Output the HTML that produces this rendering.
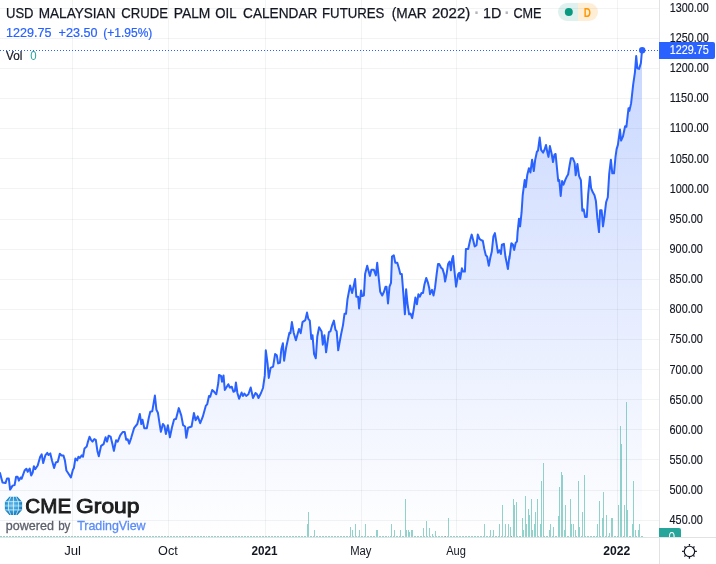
<!DOCTYPE html>
<html><head><meta charset="utf-8"><title>USD Malaysian Crude Palm Oil Calendar Futures</title>
<style>
html,body{margin:0;padding:0;background:#fff;}
body{width:716px;height:564px;position:relative;overflow:hidden;}
svg{position:absolute;left:0;top:0;display:block;font-family:"Liberation Sans",sans-serif;}
</style></head><body>
<svg width="716" height="564" viewBox="0 0 716 564">
<defs>
<linearGradient id="ag" x1="0" y1="0" x2="0" y2="537" gradientUnits="userSpaceOnUse">
<stop offset="0" stop-color="#2962ff" stop-opacity="0.28"/>
<stop offset="1" stop-color="#2962ff" stop-opacity="0"/>
</linearGradient>
<radialGradient id="gl" cx="0.45" cy="0.45" r="0.62">
<stop offset="0" stop-color="#69bdec"/>
<stop offset="0.55" stop-color="#2f9bd8"/>
<stop offset="1" stop-color="#0b6fb4"/>
</radialGradient>
<clipPath id="gc"><circle cx="13.4" cy="505.9" r="8.7"/></clipPath>
<clipPath id="vc"><rect x="659" y="520" width="57" height="17"/></clipPath>
</defs>
<g shape-rendering="crispEdges" fill="#2a2e32" fill-opacity="0.06"><rect x="0" y="8" width="659" height="1"/><rect x="0" y="38" width="659" height="1"/><rect x="0" y="68" width="659" height="1"/><rect x="0" y="98" width="659" height="1"/><rect x="0" y="128" width="659" height="1"/><rect x="0" y="158" width="659" height="1"/><rect x="0" y="188" width="659" height="1"/><rect x="0" y="219" width="659" height="1"/><rect x="0" y="249" width="659" height="1"/><rect x="0" y="279" width="659" height="1"/><rect x="0" y="309" width="659" height="1"/><rect x="0" y="339" width="659" height="1"/><rect x="0" y="369" width="659" height="1"/><rect x="0" y="399" width="659" height="1"/><rect x="0" y="429" width="659" height="1"/><rect x="0" y="459" width="659" height="1"/><rect x="0" y="490" width="659" height="1"/><rect x="0" y="520" width="659" height="1"/><rect x="72" y="0" width="1" height="537"/><rect x="168" y="0" width="1" height="537"/><rect x="265" y="0" width="1" height="537"/><rect x="361" y="0" width="1" height="537"/><rect x="456" y="0" width="1" height="537"/><rect x="617" y="0" width="1" height="537"/></g>
<path d="M0.0,537 L0.0,473.0 L2.5,482.6 L5.5,483.1 L7.0,478.5 L8.8,478.5 L10.1,489.6 L12.6,485.6 L14.6,485.1 L16.1,476.8 L17.6,476.8 L18.9,480.6 L20.6,477.5 L21.6,478.8 L24.6,470.5 L26.4,468.7 L27.7,471.8 L29.7,468.5 L31.2,475.5 L32.7,472.5 L33.9,466.2 L35.2,469.2 L37.7,465.5 L40.2,456.7 L41.7,454.4 L43.2,463.0 L45.3,455.4 L47.3,452.9 L48.5,454.9 L50.3,453.4 L52.0,460.4 L54.1,468.0 L55.8,462.5 L57.8,461.7 L59.8,453.7 L61.6,455.4 L63.4,455.4 L64.9,460.4 L66.4,470.5 L68.4,473.5 L70.9,477.5 L72.9,469.7 L73.9,468.0 L75.4,458.4 L77.2,460.4 L78.4,456.7 L79.9,457.9 L81.7,455.4 L83.0,456.7 L84.5,448.4 L86.7,446.6 L88.0,441.6 L89.5,436.8 L91.0,439.8 L92.5,441.6 L94.3,439.1 L95.8,439.8 L97.5,451.6 L98.8,456.2 L101.1,445.9 L103.6,444.1 L105.6,437.3 L107.1,441.6 L108.6,435.8 L110.6,436.6 L112.4,444.1 L113.9,450.9 L116.1,440.3 L117.7,441.6 L120.2,435.3 L122.7,432.0 L124.7,432.0 L126.2,439.8 L127.7,439.3 L129.2,443.6 L131.2,437.8 L134.2,427.8 L137.3,424.0 L139.8,413.9 L141.3,424.0 L142.5,419.7 L144.3,428.3 L146.8,428.3 L148.8,417.7 L150.3,411.7 L152.3,411.2 L154.9,395.6 L156.4,409.7 L157.9,412.7 L159.4,422.7 L160.9,431.8 L162.9,424.0 L164.4,425.8 L165.9,434.1 L167.9,425.3 L169.9,437.3 L172.0,427.3 L174.0,419.7 L175.5,418.9 L176.0,419.0 L178.8,408.1 L181.3,415.6 L183.1,425.2 L185.1,426.5 L186.3,437.8 L188.1,427.7 L191.6,426.5 L193.9,413.1 L195.6,420.2 L197.7,416.4 L200.2,423.2 L202.7,416.9 L205.9,405.6 L207.2,404.3 L209.0,396.0 L210.2,396.8 L212.2,390.0 L214.2,391.8 L216.3,394.3 L218.3,383.0 L219.0,374.9 L221.0,375.9 L222.0,381.7 L223.5,375.4 L224.8,390.0 L228.3,384.2 L229.8,387.5 L231.8,386.7 L233.4,391.8 L234.9,391.0 L235.9,382.5 L237.4,393.0 L239.1,398.8 L241.6,392.5 L242.9,396.0 L244.4,393.5 L246.2,396.0 L248.4,394.3 L250.7,387.5 L253.0,398.0 L255.5,393.0 L257.0,394.3 L258.5,398.0 L261.0,393.0 L263.0,388.0 L264.8,375.4 L265.8,350.3 L267.5,362.8 L268.8,377.9 L270.6,367.9 L273.1,366.6 L275.1,354.1 L276.8,355.3 L278.1,363.4 L279.9,362.8 L281.4,349.0 L282.9,343.2 L284.1,360.8 L286.1,347.8 L289.4,332.7 L290.4,333.2 L291.9,322.1 L293.7,332.7 L295.9,340.2 L299.0,328.9 L300.7,333.2 L302.5,322.1 L305.3,320.1 L307.0,312.6 L308.3,318.9 L309.8,320.6 L311.3,339.0 L312.5,335.2 L314.1,354.1 L315.8,358.3 L317.3,336.5 L319.1,327.2 L321.6,331.4 L322.8,344.7 L324.4,335.2 L326.1,352.3 L328.9,332.2 L330.4,331.4 L332.2,325.1 L333.9,320.6 L335.4,329.7 L336.7,331.4 L338.2,350.3 L340.9,335.2 L343.0,325.1 L344.5,313.8 L346.0,313.8 L347.5,299.2 L350.1,285.4 L352.1,293.0 L353.8,285.4 L355.1,279.1 L356.3,296.7 L358.1,296.7 L359.1,308.5 L361.1,290.4 L362.1,296.0 L363.9,295.5 L365.1,274.1 L367.2,265.8 L368.7,271.6 L369.9,275.9 L371.4,269.8 L373.9,269.8 L375.9,275.4 L377.2,262.8 L378.5,275.9 L380.2,291.7 L382.2,295.5 L384.0,291.7 L385.5,286.7 L386.5,286.7 L388.0,303.5 L389.5,286.7 L391.0,282.9 L392.0,256.5 L393.8,255.3 L395.3,262.8 L397.3,262.8 L399.1,269.1 L400.3,274.1 L401.8,274.1 L403.1,290.4 L404.9,314.3 L406.1,289.2 L407.4,303.0 L409.1,314.3 L410.6,313.6 L412.2,318.1 L413.7,309.3 L415.4,297.5 L416.9,304.3 L418.4,294.2 L419.9,296.7 L421.5,293.0 L423.0,293.0 L424.5,284.2 L426.2,277.9 L428.0,282.9 L429.2,287.9 L430.0,294.2 L432.0,289.9 L433.5,295.5 L435.0,287.9 L436.8,272.8 L438.0,264.1 L439.3,264.1 L441.1,267.8 L442.6,269.1 L444.1,274.1 L445.1,281.6 L446.6,274.1 L448.1,264.1 L449.6,261.5 L450.9,270.3 L452.1,259.0 L453.1,256.0 L454.4,270.3 L456.1,286.7 L458.2,274.1 L459.2,272.8 L460.2,279.1 L461.9,268.3 L463.2,271.6 L464.9,271.6 L465.9,249.0 L468.2,249.0 L470.2,239.7 L471.7,234.6 L473.2,240.2 L474.7,246.5 L476.5,245.2 L477.8,234.6 L479.5,238.9 L481.3,240.2 L482.8,240.7 L484.3,249.0 L485.8,255.3 L487.1,256.5 L488.8,265.8 L490.3,257.8 L491.8,251.5 L493.4,236.4 L494.9,233.1 L496.4,242.7 L497.9,252.7 L499.4,250.2 L500.9,254.0 L501.9,244.7 L503.9,243.9 L505.4,256.5 L506.7,262.8 L507.9,269.1 L509.4,256.2 L509.4,259.0 L511.3,243.4 L511.5,243.2 L513.0,244.7 L513.0,245.4 L514.2,249.9 L514.2,249.7 L515.7,242.7 L516.5,242.0 L517.0,241.4 L517.6,232.1 L519.0,218.7 L520.1,226.4 L521.6,212.2 L522.7,195.2 L524.7,180.1 L525.8,187.2 L527.2,175.3 L528.9,168.2 L530.4,172.5 L532.1,159.7 L533.8,171.1 L535.2,159.7 L536.9,151.8 L538.0,150.6 L539.7,137.6 L541.1,149.8 L543.1,152.6 L544.5,149.8 L546.0,145.0 L547.4,152.6 L548.5,156.9 L549.9,146.1 L551.6,153.5 L553.0,162.0 L554.5,154.6 L555.6,154.0 L556.7,165.4 L558.2,181.0 L559.3,180.1 L560.7,196.0 L562.1,181.0 L563.5,184.7 L565.2,180.1 L567.0,176.2 L568.1,174.5 L569.5,166.0 L570.9,158.3 L572.9,158.3 L574.6,162.6 L575.7,175.3 L577.4,164.0 L579.1,176.2 L580.9,180.1 L582.3,210.8 L583.7,209.4 L585.1,217.0 L586.8,217.0 L588.2,193.8 L589.9,176.7 L591.1,188.1 L592.8,192.3 L594.5,195.2 L595.9,200.9 L597.3,217.9 L599.0,232.1 L600.1,210.2 L601.6,210.2 L603.0,226.4 L604.4,216.5 L606.1,202.3 L607.8,197.2 L609.2,173.9 L610.9,159.7 L612.3,173.3 L614.0,173.3 L615.5,156.9 L616.6,149.1 L617.9,144.9 L620.0,129.6 L621.1,140.6 L623.0,136.4 L625.1,126.2 L626.4,126.8 L628.5,108.3 L629.4,110.9 L631.1,103.4 L633.2,84.3 L634.9,72.6 L636.2,56.0 L637.4,68.3 L639.1,68.9 L640.9,63.0 L642.0,50.3 L642.0,537 Z" fill="url(#ag)"/>
<g fill="#26a69a" fill-opacity="0.5" shape-rendering="crispEdges"><rect x="0" y="536" width="1" height="1"/><rect x="1" y="536" width="1" height="1"/><rect x="3" y="536" width="1" height="1"/><rect x="4" y="536" width="1" height="1"/><rect x="6" y="536" width="1" height="1"/><rect x="7" y="536" width="1" height="1"/><rect x="9" y="536" width="1" height="1"/><rect x="10" y="536" width="1" height="1"/><rect x="12" y="536" width="1" height="1"/><rect x="13" y="536" width="1" height="1"/><rect x="15" y="536" width="1" height="1"/><rect x="16" y="536" width="1" height="1"/><rect x="18" y="536" width="1" height="1"/><rect x="19" y="536" width="1" height="1"/><rect x="21" y="536" width="1" height="1"/><rect x="23" y="536" width="1" height="1"/><rect x="24" y="536" width="1" height="1"/><rect x="26" y="536" width="1" height="1"/><rect x="27" y="536" width="1" height="1"/><rect x="29" y="536" width="1" height="1"/><rect x="30" y="536" width="1" height="1"/><rect x="32" y="536" width="1" height="1"/><rect x="33" y="536" width="1" height="1"/><rect x="35" y="536" width="1" height="1"/><rect x="36" y="536" width="1" height="1"/><rect x="38" y="536" width="1" height="1"/><rect x="39" y="536" width="1" height="1"/><rect x="41" y="536" width="1" height="1"/><rect x="42" y="536" width="1" height="1"/><rect x="44" y="536" width="1" height="1"/><rect x="45" y="536" width="1" height="1"/><rect x="47" y="536" width="1" height="1"/><rect x="48" y="536" width="1" height="1"/><rect x="50" y="536" width="1" height="1"/><rect x="51" y="536" width="1" height="1"/><rect x="53" y="536" width="1" height="1"/><rect x="54" y="536" width="1" height="1"/><rect x="56" y="536" width="1" height="1"/><rect x="57" y="536" width="1" height="1"/><rect x="59" y="536" width="1" height="1"/><rect x="60" y="536" width="1" height="1"/><rect x="62" y="536" width="1" height="1"/><rect x="63" y="536" width="1" height="1"/><rect x="65" y="536" width="1" height="1"/><rect x="66" y="536" width="1" height="1"/><rect x="68" y="536" width="1" height="1"/><rect x="69" y="536" width="1" height="1"/><rect x="71" y="536" width="1" height="1"/><rect x="72" y="536" width="1" height="1"/><rect x="74" y="536" width="1" height="1"/><rect x="75" y="536" width="1" height="1"/><rect x="77" y="536" width="1" height="1"/><rect x="78" y="536" width="1" height="1"/><rect x="80" y="536" width="1" height="1"/><rect x="81" y="536" width="1" height="1"/><rect x="83" y="536" width="1" height="1"/><rect x="84" y="536" width="1" height="1"/><rect x="86" y="536" width="1" height="1"/><rect x="87" y="536" width="1" height="1"/><rect x="89" y="536" width="1" height="1"/><rect x="90" y="536" width="1" height="1"/><rect x="92" y="536" width="1" height="1"/><rect x="93" y="536" width="1" height="1"/><rect x="95" y="536" width="1" height="1"/><rect x="96" y="536" width="1" height="1"/><rect x="98" y="536" width="1" height="1"/><rect x="99" y="536" width="1" height="1"/><rect x="101" y="536" width="1" height="1"/><rect x="102" y="536" width="1" height="1"/><rect x="104" y="536" width="1" height="1"/><rect x="105" y="536" width="1" height="1"/><rect x="107" y="536" width="1" height="1"/><rect x="108" y="536" width="1" height="1"/><rect x="110" y="536" width="1" height="1"/><rect x="111" y="536" width="1" height="1"/><rect x="113" y="536" width="1" height="1"/><rect x="114" y="536" width="1" height="1"/><rect x="116" y="536" width="1" height="1"/><rect x="117" y="536" width="1" height="1"/><rect x="119" y="536" width="1" height="1"/><rect x="120" y="536" width="1" height="1"/><rect x="122" y="536" width="1" height="1"/><rect x="123" y="536" width="1" height="1"/><rect x="125" y="536" width="1" height="1"/><rect x="126" y="536" width="1" height="1"/><rect x="128" y="536" width="1" height="1"/><rect x="129" y="536" width="1" height="1"/><rect x="131" y="536" width="1" height="1"/><rect x="132" y="536" width="1" height="1"/><rect x="134" y="536" width="1" height="1"/><rect x="135" y="536" width="1" height="1"/><rect x="137" y="536" width="1" height="1"/><rect x="138" y="536" width="1" height="1"/><rect x="140" y="536" width="1" height="1"/><rect x="141" y="536" width="1" height="1"/><rect x="143" y="536" width="1" height="1"/><rect x="144" y="536" width="1" height="1"/><rect x="146" y="536" width="1" height="1"/><rect x="147" y="536" width="1" height="1"/><rect x="149" y="536" width="1" height="1"/><rect x="150" y="536" width="1" height="1"/><rect x="152" y="536" width="1" height="1"/><rect x="153" y="536" width="1" height="1"/><rect x="155" y="536" width="1" height="1"/><rect x="156" y="536" width="1" height="1"/><rect x="158" y="536" width="1" height="1"/><rect x="159" y="536" width="1" height="1"/><rect x="161" y="536" width="1" height="1"/><rect x="162" y="536" width="1" height="1"/><rect x="164" y="536" width="1" height="1"/><rect x="165" y="536" width="1" height="1"/><rect x="167" y="536" width="1" height="1"/><rect x="168" y="536" width="1" height="1"/><rect x="170" y="536" width="1" height="1"/><rect x="171" y="536" width="1" height="1"/><rect x="173" y="536" width="1" height="1"/><rect x="174" y="536" width="1" height="1"/><rect x="176" y="536" width="1" height="1"/><rect x="177" y="536" width="1" height="1"/><rect x="179" y="536" width="1" height="1"/><rect x="180" y="536" width="1" height="1"/><rect x="182" y="536" width="1" height="1"/><rect x="183" y="536" width="1" height="1"/><rect x="185" y="536" width="1" height="1"/><rect x="186" y="536" width="1" height="1"/><rect x="188" y="536" width="1" height="1"/><rect x="189" y="536" width="1" height="1"/><rect x="191" y="536" width="1" height="1"/><rect x="192" y="536" width="1" height="1"/><rect x="194" y="536" width="1" height="1"/><rect x="195" y="536" width="1" height="1"/><rect x="197" y="536" width="1" height="1"/><rect x="198" y="536" width="1" height="1"/><rect x="200" y="536" width="1" height="1"/><rect x="201" y="536" width="1" height="1"/><rect x="203" y="536" width="1" height="1"/><rect x="204" y="536" width="1" height="1"/><rect x="206" y="536" width="1" height="1"/><rect x="208" y="536" width="1" height="1"/><rect x="209" y="536" width="1" height="1"/><rect x="211" y="536" width="1" height="1"/><rect x="212" y="536" width="1" height="1"/><rect x="214" y="536" width="1" height="1"/><rect x="215" y="536" width="1" height="1"/><rect x="217" y="536" width="1" height="1"/><rect x="218" y="536" width="1" height="1"/><rect x="220" y="536" width="1" height="1"/><rect x="221" y="536" width="1" height="1"/><rect x="223" y="536" width="1" height="1"/><rect x="224" y="536" width="1" height="1"/><rect x="226" y="536" width="1" height="1"/><rect x="227" y="536" width="1" height="1"/><rect x="229" y="536" width="1" height="1"/><rect x="230" y="536" width="1" height="1"/><rect x="232" y="536" width="1" height="1"/><rect x="233" y="536" width="1" height="1"/><rect x="235" y="536" width="1" height="1"/><rect x="236" y="536" width="1" height="1"/><rect x="238" y="536" width="1" height="1"/><rect x="239" y="536" width="1" height="1"/><rect x="241" y="536" width="1" height="1"/><rect x="242" y="536" width="1" height="1"/><rect x="244" y="536" width="1" height="1"/><rect x="245" y="536" width="1" height="1"/><rect x="247" y="536" width="1" height="1"/><rect x="248" y="536" width="1" height="1"/><rect x="250" y="536" width="1" height="1"/><rect x="251" y="536" width="1" height="1"/><rect x="253" y="536" width="1" height="1"/><rect x="254" y="536" width="1" height="1"/><rect x="256" y="536" width="1" height="1"/><rect x="257" y="536" width="1" height="1"/><rect x="259" y="536" width="1" height="1"/><rect x="260" y="536" width="1" height="1"/><rect x="262" y="536" width="1" height="1"/><rect x="263" y="536" width="1" height="1"/><rect x="265" y="536" width="1" height="1"/><rect x="266" y="536" width="1" height="1"/><rect x="268" y="536" width="1" height="1"/><rect x="269" y="536" width="1" height="1"/><rect x="271" y="536" width="1" height="1"/><rect x="272" y="536" width="1" height="1"/><rect x="274" y="536" width="1" height="1"/><rect x="275" y="536" width="1" height="1"/><rect x="277" y="536" width="1" height="1"/><rect x="278" y="536" width="1" height="1"/><rect x="280" y="536" width="1" height="1"/><rect x="281" y="536" width="1" height="1"/><rect x="283" y="536" width="1" height="1"/><rect x="284" y="536" width="1" height="1"/><rect x="286" y="536" width="1" height="1"/><rect x="287" y="536" width="1" height="1"/><rect x="289" y="536" width="1" height="1"/><rect x="290" y="536" width="1" height="1"/><rect x="292" y="536" width="1" height="1"/><rect x="293" y="536" width="1" height="1"/><rect x="295" y="536" width="1" height="1"/><rect x="296" y="536" width="1" height="1"/><rect x="298" y="536" width="1" height="1"/><rect x="299" y="536" width="1" height="1"/><rect x="301" y="536" width="1" height="1"/><rect x="302" y="536" width="1" height="1"/><rect x="304" y="536" width="1" height="1"/><rect x="305" y="536" width="1" height="1"/><rect x="307" y="524" width="1" height="13"/><rect x="308" y="512" width="1" height="25"/><rect x="310" y="536" width="1" height="1"/><rect x="311" y="536" width="1" height="1"/><rect x="313" y="536" width="1" height="1"/><rect x="314" y="530" width="1" height="7"/><rect x="316" y="536" width="1" height="1"/><rect x="317" y="536" width="1" height="1"/><rect x="319" y="536" width="1" height="1"/><rect x="320" y="536" width="1" height="1"/><rect x="322" y="536" width="1" height="1"/><rect x="323" y="536" width="1" height="1"/><rect x="325" y="536" width="1" height="1"/><rect x="326" y="536" width="1" height="1"/><rect x="328" y="536" width="1" height="1"/><rect x="329" y="536" width="1" height="1"/><rect x="331" y="536" width="1" height="1"/><rect x="332" y="536" width="1" height="1"/><rect x="334" y="536" width="1" height="1"/><rect x="335" y="536" width="1" height="1"/><rect x="337" y="536" width="1" height="1"/><rect x="338" y="536" width="1" height="1"/><rect x="340" y="536" width="1" height="1"/><rect x="341" y="536" width="1" height="1"/><rect x="343" y="536" width="1" height="1"/><rect x="344" y="536" width="1" height="1"/><rect x="346" y="536" width="1" height="1"/><rect x="347" y="536" width="1" height="1"/><rect x="349" y="536" width="1" height="1"/><rect x="350" y="527" width="1" height="10"/><rect x="352" y="530" width="1" height="7"/><rect x="353" y="536" width="1" height="1"/><rect x="355" y="524" width="1" height="13"/><rect x="356" y="536" width="1" height="1"/><rect x="358" y="536" width="1" height="1"/><rect x="359" y="530" width="1" height="7"/><rect x="361" y="536" width="1" height="1"/><rect x="362" y="536" width="1" height="1"/><rect x="364" y="536" width="1" height="1"/><rect x="365" y="524" width="1" height="13"/><rect x="367" y="536" width="1" height="1"/><rect x="368" y="536" width="1" height="1"/><rect x="370" y="536" width="1" height="1"/><rect x="371" y="536" width="1" height="1"/><rect x="373" y="536" width="1" height="1"/><rect x="374" y="536" width="1" height="1"/><rect x="376" y="530" width="1" height="7"/><rect x="377" y="530" width="1" height="7"/><rect x="379" y="536" width="1" height="1"/><rect x="380" y="536" width="1" height="1"/><rect x="382" y="536" width="1" height="1"/><rect x="383" y="536" width="1" height="1"/><rect x="385" y="536" width="1" height="1"/><rect x="386" y="536" width="1" height="1"/><rect x="388" y="536" width="1" height="1"/><rect x="390" y="536" width="1" height="1"/><rect x="391" y="524" width="1" height="13"/><rect x="393" y="536" width="1" height="1"/><rect x="394" y="530" width="1" height="7"/><rect x="396" y="536" width="1" height="1"/><rect x="397" y="536" width="1" height="1"/><rect x="399" y="536" width="1" height="1"/><rect x="400" y="530" width="1" height="7"/><rect x="402" y="536" width="1" height="1"/><rect x="403" y="536" width="1" height="1"/><rect x="405" y="499" width="1" height="38"/><rect x="406" y="530" width="1" height="7"/><rect x="408" y="530" width="1" height="7"/><rect x="409" y="532" width="1" height="5"/><rect x="411" y="530" width="1" height="7"/><rect x="412" y="530" width="1" height="7"/><rect x="414" y="536" width="1" height="1"/><rect x="415" y="536" width="1" height="1"/><rect x="417" y="536" width="1" height="1"/><rect x="418" y="536" width="1" height="1"/><rect x="420" y="536" width="1" height="1"/><rect x="421" y="536" width="1" height="1"/><rect x="423" y="528" width="1" height="9"/><rect x="424" y="536" width="1" height="1"/><rect x="426" y="521" width="1" height="16"/><rect x="427" y="536" width="1" height="1"/><rect x="429" y="528" width="1" height="9"/><rect x="430" y="536" width="1" height="1"/><rect x="432" y="534" width="1" height="3"/><rect x="433" y="536" width="1" height="1"/><rect x="435" y="531" width="1" height="6"/><rect x="436" y="536" width="1" height="1"/><rect x="438" y="536" width="1" height="1"/><rect x="439" y="536" width="1" height="1"/><rect x="441" y="536" width="1" height="1"/><rect x="442" y="536" width="1" height="1"/><rect x="444" y="536" width="1" height="1"/><rect x="445" y="536" width="1" height="1"/><rect x="447" y="536" width="1" height="1"/><rect x="448" y="518" width="1" height="19"/><rect x="450" y="536" width="1" height="1"/><rect x="451" y="536" width="1" height="1"/><rect x="453" y="536" width="1" height="1"/><rect x="454" y="536" width="1" height="1"/><rect x="456" y="536" width="1" height="1"/><rect x="457" y="536" width="1" height="1"/><rect x="459" y="536" width="1" height="1"/><rect x="460" y="536" width="1" height="1"/><rect x="462" y="536" width="1" height="1"/><rect x="463" y="536" width="1" height="1"/><rect x="465" y="536" width="1" height="1"/><rect x="466" y="536" width="1" height="1"/><rect x="468" y="536" width="1" height="1"/><rect x="469" y="536" width="1" height="1"/><rect x="471" y="536" width="1" height="1"/><rect x="472" y="536" width="1" height="1"/><rect x="474" y="536" width="1" height="1"/><rect x="475" y="536" width="1" height="1"/><rect x="477" y="536" width="1" height="1"/><rect x="478" y="536" width="1" height="1"/><rect x="480" y="536" width="1" height="1"/><rect x="481" y="536" width="1" height="1"/><rect x="483" y="536" width="1" height="1"/><rect x="484" y="524" width="1" height="13"/><rect x="486" y="536" width="1" height="1"/><rect x="487" y="536" width="1" height="1"/><rect x="489" y="536" width="1" height="1"/><rect x="490" y="530" width="1" height="7"/><rect x="492" y="536" width="1" height="1"/><rect x="493" y="530" width="1" height="7"/><rect x="495" y="536" width="1" height="1"/><rect x="496" y="536" width="1" height="1"/><rect x="498" y="536" width="1" height="1"/><rect x="499" y="524" width="1" height="13"/><rect x="501" y="536" width="1" height="1"/><rect x="502" y="505" width="1" height="32"/><rect x="504" y="536" width="1" height="1"/><rect x="505" y="524" width="1" height="13"/><rect x="507" y="536" width="1" height="1"/><rect x="508" y="524" width="1" height="13"/><rect x="510" y="527" width="1" height="10"/><rect x="511" y="536" width="1" height="1"/><rect x="513" y="499" width="1" height="38"/><rect x="514" y="505" width="1" height="32"/><rect x="516" y="502" width="1" height="35"/><rect x="517" y="536" width="1" height="1"/><rect x="519" y="536" width="1" height="1"/><rect x="520" y="536" width="1" height="1"/><rect x="522" y="518" width="1" height="19"/><rect x="523" y="530" width="1" height="7"/><rect x="525" y="496" width="1" height="41"/><rect x="526" y="524" width="1" height="13"/><rect x="528" y="509" width="1" height="28"/><rect x="529" y="515" width="1" height="22"/><rect x="531" y="499" width="1" height="38"/><rect x="532" y="530" width="1" height="7"/><rect x="534" y="524" width="1" height="13"/><rect x="535" y="512" width="1" height="25"/><rect x="537" y="499" width="1" height="38"/><rect x="538" y="536" width="1" height="1"/><rect x="540" y="524" width="1" height="13"/><rect x="541" y="481" width="1" height="56"/><rect x="543" y="463" width="1" height="74"/><rect x="544" y="536" width="1" height="1"/><rect x="546" y="536" width="1" height="1"/><rect x="547" y="536" width="1" height="1"/><rect x="549" y="530" width="1" height="7"/><rect x="550" y="524" width="1" height="13"/><rect x="552" y="536" width="1" height="1"/><rect x="553" y="527" width="1" height="10"/><rect x="555" y="536" width="1" height="1"/><rect x="556" y="536" width="1" height="1"/><rect x="558" y="516" width="1" height="21"/><rect x="559" y="487" width="1" height="50"/><rect x="561" y="472" width="1" height="65"/><rect x="562" y="475" width="1" height="62"/><rect x="564" y="530" width="1" height="7"/><rect x="565" y="505" width="1" height="32"/><rect x="567" y="536" width="1" height="1"/><rect x="568" y="536" width="1" height="1"/><rect x="570" y="499" width="1" height="38"/><rect x="571" y="524" width="1" height="13"/><rect x="573" y="524" width="1" height="13"/><rect x="575" y="530" width="1" height="7"/><rect x="576" y="536" width="1" height="1"/><rect x="578" y="481" width="1" height="56"/><rect x="579" y="527" width="1" height="10"/><rect x="581" y="536" width="1" height="1"/><rect x="582" y="512" width="1" height="25"/><rect x="584" y="475" width="1" height="62"/><rect x="585" y="536" width="1" height="1"/><rect x="587" y="536" width="1" height="1"/><rect x="588" y="536" width="1" height="1"/><rect x="590" y="536" width="1" height="1"/><rect x="591" y="536" width="1" height="1"/><rect x="593" y="536" width="1" height="1"/><rect x="594" y="536" width="1" height="1"/><rect x="596" y="536" width="1" height="1"/><rect x="597" y="524" width="1" height="13"/><rect x="599" y="501" width="1" height="36"/><rect x="600" y="536" width="1" height="1"/><rect x="602" y="518" width="1" height="19"/><rect x="603" y="492" width="1" height="45"/><rect x="605" y="536" width="1" height="1"/><rect x="606" y="515" width="1" height="22"/><rect x="608" y="536" width="1" height="1"/><rect x="609" y="533" width="1" height="4"/><rect x="611" y="518" width="1" height="19"/><rect x="612" y="518" width="1" height="19"/><rect x="614" y="536" width="1" height="1"/><rect x="615" y="536" width="1" height="1"/><rect x="617" y="536" width="1" height="1"/><rect x="618" y="505" width="1" height="32"/><rect x="620" y="426" width="1" height="111"/><rect x="621" y="444" width="1" height="93"/><rect x="623" y="536" width="1" height="1"/><rect x="624" y="505" width="1" height="32"/><rect x="626" y="402" width="1" height="135"/><rect x="627" y="510" width="1" height="27"/><rect x="629" y="536" width="1" height="1"/><rect x="630" y="536" width="1" height="1"/><rect x="632" y="524" width="1" height="13"/><rect x="633" y="481" width="1" height="56"/><rect x="635" y="530" width="1" height="7"/><rect x="636" y="536" width="1" height="1"/><rect x="638" y="530" width="1" height="7"/><rect x="639" y="524" width="1" height="13"/><rect x="641" y="536" width="1" height="1"/><rect x="642" y="536" width="1" height="1"/></g>
<g fill="#ef5350" fill-opacity="0.5" shape-rendering="crispEdges"><rect x="445" y="536" width="1" height="1"/><rect x="511" y="536" width="1" height="1"/></g>
<polyline points="0.0,473.0 2.5,482.6 5.5,483.1 7.0,478.5 8.8,478.5 10.1,489.6 12.6,485.6 14.6,485.1 16.1,476.8 17.6,476.8 18.9,480.6 20.6,477.5 21.6,478.8 24.6,470.5 26.4,468.7 27.7,471.8 29.7,468.5 31.2,475.5 32.7,472.5 33.9,466.2 35.2,469.2 37.7,465.5 40.2,456.7 41.7,454.4 43.2,463.0 45.3,455.4 47.3,452.9 48.5,454.9 50.3,453.4 52.0,460.4 54.1,468.0 55.8,462.5 57.8,461.7 59.8,453.7 61.6,455.4 63.4,455.4 64.9,460.4 66.4,470.5 68.4,473.5 70.9,477.5 72.9,469.7 73.9,468.0 75.4,458.4 77.2,460.4 78.4,456.7 79.9,457.9 81.7,455.4 83.0,456.7 84.5,448.4 86.7,446.6 88.0,441.6 89.5,436.8 91.0,439.8 92.5,441.6 94.3,439.1 95.8,439.8 97.5,451.6 98.8,456.2 101.1,445.9 103.6,444.1 105.6,437.3 107.1,441.6 108.6,435.8 110.6,436.6 112.4,444.1 113.9,450.9 116.1,440.3 117.7,441.6 120.2,435.3 122.7,432.0 124.7,432.0 126.2,439.8 127.7,439.3 129.2,443.6 131.2,437.8 134.2,427.8 137.3,424.0 139.8,413.9 141.3,424.0 142.5,419.7 144.3,428.3 146.8,428.3 148.8,417.7 150.3,411.7 152.3,411.2 154.9,395.6 156.4,409.7 157.9,412.7 159.4,422.7 160.9,431.8 162.9,424.0 164.4,425.8 165.9,434.1 167.9,425.3 169.9,437.3 172.0,427.3 174.0,419.7 175.5,418.9 176.0,419.0 178.8,408.1 181.3,415.6 183.1,425.2 185.1,426.5 186.3,437.8 188.1,427.7 191.6,426.5 193.9,413.1 195.6,420.2 197.7,416.4 200.2,423.2 202.7,416.9 205.9,405.6 207.2,404.3 209.0,396.0 210.2,396.8 212.2,390.0 214.2,391.8 216.3,394.3 218.3,383.0 219.0,374.9 221.0,375.9 222.0,381.7 223.5,375.4 224.8,390.0 228.3,384.2 229.8,387.5 231.8,386.7 233.4,391.8 234.9,391.0 235.9,382.5 237.4,393.0 239.1,398.8 241.6,392.5 242.9,396.0 244.4,393.5 246.2,396.0 248.4,394.3 250.7,387.5 253.0,398.0 255.5,393.0 257.0,394.3 258.5,398.0 261.0,393.0 263.0,388.0 264.8,375.4 265.8,350.3 267.5,362.8 268.8,377.9 270.6,367.9 273.1,366.6 275.1,354.1 276.8,355.3 278.1,363.4 279.9,362.8 281.4,349.0 282.9,343.2 284.1,360.8 286.1,347.8 289.4,332.7 290.4,333.2 291.9,322.1 293.7,332.7 295.9,340.2 299.0,328.9 300.7,333.2 302.5,322.1 305.3,320.1 307.0,312.6 308.3,318.9 309.8,320.6 311.3,339.0 312.5,335.2 314.1,354.1 315.8,358.3 317.3,336.5 319.1,327.2 321.6,331.4 322.8,344.7 324.4,335.2 326.1,352.3 328.9,332.2 330.4,331.4 332.2,325.1 333.9,320.6 335.4,329.7 336.7,331.4 338.2,350.3 340.9,335.2 343.0,325.1 344.5,313.8 346.0,313.8 347.5,299.2 350.1,285.4 352.1,293.0 353.8,285.4 355.1,279.1 356.3,296.7 358.1,296.7 359.1,308.5 361.1,290.4 362.1,296.0 363.9,295.5 365.1,274.1 367.2,265.8 368.7,271.6 369.9,275.9 371.4,269.8 373.9,269.8 375.9,275.4 377.2,262.8 378.5,275.9 380.2,291.7 382.2,295.5 384.0,291.7 385.5,286.7 386.5,286.7 388.0,303.5 389.5,286.7 391.0,282.9 392.0,256.5 393.8,255.3 395.3,262.8 397.3,262.8 399.1,269.1 400.3,274.1 401.8,274.1 403.1,290.4 404.9,314.3 406.1,289.2 407.4,303.0 409.1,314.3 410.6,313.6 412.2,318.1 413.7,309.3 415.4,297.5 416.9,304.3 418.4,294.2 419.9,296.7 421.5,293.0 423.0,293.0 424.5,284.2 426.2,277.9 428.0,282.9 429.2,287.9 430.0,294.2 432.0,289.9 433.5,295.5 435.0,287.9 436.8,272.8 438.0,264.1 439.3,264.1 441.1,267.8 442.6,269.1 444.1,274.1 445.1,281.6 446.6,274.1 448.1,264.1 449.6,261.5 450.9,270.3 452.1,259.0 453.1,256.0 454.4,270.3 456.1,286.7 458.2,274.1 459.2,272.8 460.2,279.1 461.9,268.3 463.2,271.6 464.9,271.6 465.9,249.0 468.2,249.0 470.2,239.7 471.7,234.6 473.2,240.2 474.7,246.5 476.5,245.2 477.8,234.6 479.5,238.9 481.3,240.2 482.8,240.7 484.3,249.0 485.8,255.3 487.1,256.5 488.8,265.8 490.3,257.8 491.8,251.5 493.4,236.4 494.9,233.1 496.4,242.7 497.9,252.7 499.4,250.2 500.9,254.0 501.9,244.7 503.9,243.9 505.4,256.5 506.7,262.8 507.9,269.1 509.4,256.2 509.4,259.0 511.3,243.4 511.5,243.2 513.0,244.7 513.0,245.4 514.2,249.9 514.2,249.7 515.7,242.7 516.5,242.0 517.0,241.4 517.6,232.1 519.0,218.7 520.1,226.4 521.6,212.2 522.7,195.2 524.7,180.1 525.8,187.2 527.2,175.3 528.9,168.2 530.4,172.5 532.1,159.7 533.8,171.1 535.2,159.7 536.9,151.8 538.0,150.6 539.7,137.6 541.1,149.8 543.1,152.6 544.5,149.8 546.0,145.0 547.4,152.6 548.5,156.9 549.9,146.1 551.6,153.5 553.0,162.0 554.5,154.6 555.6,154.0 556.7,165.4 558.2,181.0 559.3,180.1 560.7,196.0 562.1,181.0 563.5,184.7 565.2,180.1 567.0,176.2 568.1,174.5 569.5,166.0 570.9,158.3 572.9,158.3 574.6,162.6 575.7,175.3 577.4,164.0 579.1,176.2 580.9,180.1 582.3,210.8 583.7,209.4 585.1,217.0 586.8,217.0 588.2,193.8 589.9,176.7 591.1,188.1 592.8,192.3 594.5,195.2 595.9,200.9 597.3,217.9 599.0,232.1 600.1,210.2 601.6,210.2 603.0,226.4 604.4,216.5 606.1,202.3 607.8,197.2 609.2,173.9 610.9,159.7 612.3,173.3 614.0,173.3 615.5,156.9 616.6,149.1 617.9,144.9 620.0,129.6 621.1,140.6 623.0,136.4 625.1,126.2 626.4,126.8 628.5,108.3 629.4,110.9 631.1,103.4 633.2,84.3 634.9,72.6 636.2,56.0 637.4,68.3 639.1,68.9 640.9,63.0 642.0,50.3" fill="none" stroke="#2962ff" stroke-width="2" stroke-linejoin="round" stroke-linecap="round"/>
<line x1="0" y1="50.5" x2="659" y2="50.5" stroke="#2962ff" stroke-width="1" stroke-dasharray="1 2" shape-rendering="crispEdges"/>
<circle cx="642.2" cy="50.3" r="3.2" fill="#2962ff"/>
<rect x="659" y="0" width="1" height="564" fill="#e1e2e4"/>
<rect x="0" y="537" width="716" height="1" fill="#e1e2e4"/>
<path d="M659 42h54a2 2 0 0 1 2 2v13a2 2 0 0 1 -2 2h-54z" fill="#2962ff"/>
<g clip-path="url(#vc)">
<path d="M659 528h20a2 2 0 0 1 2 2v13a2 2 0 0 1 -2 2h-20z" fill="#26a69a"/>
<text x="668.6" y="541.1" font-size="12.4" fill="#fff" textLength="6.6" lengthAdjust="spacingAndGlyphs">0</text>
</g>
<path d="M567 3h11v18h-11a9 9 0 0 1 0-18z" fill="#089981" fill-opacity="0.135"/>
<path d="M578 3h11a9 9 0 0 1 0 18h-11z" fill="#ff9800" fill-opacity="0.16"/>
<circle cx="568.8" cy="12.1" r="4" fill="#089981"/>
<g>
<path d="M9.3 496.8h8.2l4.6 4.9v8.2l-4.6 5.2h-8.2l-4.4-5.2v-8.2z" fill="url(#gl)"/>
<rect x="4.9" y="504.6" width="17.2" height="2.2" fill="#bfe6fa" opacity="0.45"/>
<g stroke="#fff" stroke-width="0.75" fill="none" opacity="0.9">
<path d="M4.5 501.7h18M4.5 509.9h18"/>
<path d="M13.45 496v20M8.5 501.7v8.2M18.4 501.7v8.2"/>
<path d="M8.5 501.7l2.6-5.2M18.4 501.7l-2.6-5.2M8.5 509.9l2.6 5.5M18.4 509.9l-2.6 5.5"/>
<path d="M5 501.2l3.6-4M22 501.2l-3.6-4M5 510.4l3.6 4.2M22 510.4l-3.6 4.2" stroke-width="0.5" opacity="0.6"/>
</g>
</g>
<g stroke="#131722" stroke-width="1.2" fill="none"><circle cx="689.45" cy="551.45" r="5.2"/><path d="M695.05 551.45L696.85 551.45M693.41 555.41L694.47 556.47M689.45 557.05L689.45 558.85M685.49 555.41L684.43 556.47M683.85 551.45L682.05 551.45M685.49 547.49L684.43 546.43M689.45 545.85L689.45 544.05M693.41 547.49L694.47 546.43" stroke-width="1.3"/></g>
<text x="6.03" y="17.60" font-size="14.6" fill="#131722" textLength="27.52" lengthAdjust="spacingAndGlyphs" stroke="#131722" stroke-width="0.25">USD</text>
<text x="38.69" y="17.60" font-size="14.6" fill="#131722" textLength="76.78" lengthAdjust="spacingAndGlyphs" stroke="#131722" stroke-width="0.25">MALAYSIAN</text>
<text x="121.33" y="17.60" font-size="14.6" fill="#131722" textLength="46.71" lengthAdjust="spacingAndGlyphs" stroke="#131722" stroke-width="0.25">CRUDE</text>
<text x="173.67" y="17.60" font-size="14.6" fill="#131722" textLength="36.80" lengthAdjust="spacingAndGlyphs" stroke="#131722" stroke-width="0.25">PALM</text>
<text x="215.32" y="17.60" font-size="14.6" fill="#131722" textLength="21.26" lengthAdjust="spacingAndGlyphs" stroke="#131722" stroke-width="0.25">OIL</text>
<text x="243.03" y="17.60" font-size="14.6" fill="#131722" textLength="74.46" lengthAdjust="spacingAndGlyphs" stroke="#131722" stroke-width="0.25">CALENDAR</text>
<text x="322.02" y="17.60" font-size="14.6" fill="#131722" textLength="62.41" lengthAdjust="spacingAndGlyphs" stroke="#131722" stroke-width="0.25">FUTURES</text>
<text x="391.73" y="17.60" font-size="14.6" fill="#131722" textLength="34.96" lengthAdjust="spacingAndGlyphs" stroke="#131722" stroke-width="0.25">(MAR</text>
<text x="431.93" y="17.60" font-size="14.6" fill="#131722" textLength="38.33" lengthAdjust="spacingAndGlyphs" stroke="#131722" stroke-width="0.25">2022)</text>
<text x="482.94" y="17.60" font-size="14.6" fill="#131722" textLength="18.37" lengthAdjust="spacingAndGlyphs" stroke="#131722" stroke-width="0.25">1D</text>
<text x="513.42" y="17.60" font-size="14.6" fill="#131722" textLength="28.12" lengthAdjust="spacingAndGlyphs" stroke="#131722" stroke-width="0.25">CME</text>
<text x="6.10" y="37.20" font-size="12" fill="#2962ff" textLength="45.26" lengthAdjust="spacingAndGlyphs" stroke="#2962ff" stroke-width="0.2">1229.75</text>
<text x="58.60" y="37.20" font-size="12" fill="#2962ff" textLength="38.86" lengthAdjust="spacingAndGlyphs" stroke="#2962ff" stroke-width="0.2">+23.50</text>
<text x="103.30" y="37.20" font-size="12" fill="#2962ff" textLength="49.00" lengthAdjust="spacingAndGlyphs" stroke="#2962ff" stroke-width="0.2">(+1.95%)</text>
<text x="6.10" y="59.80" font-size="12" fill="#131722" textLength="16.35" lengthAdjust="spacingAndGlyphs" stroke="#131722" stroke-width="0.2">Vol</text>
<text x="30.20" y="59.80" font-size="12" fill="#26a69a" textLength="6.39" lengthAdjust="spacingAndGlyphs">0</text>
<text x="669.68" y="11.82" font-size="12.4" fill="#131722" textLength="39.06" lengthAdjust="spacingAndGlyphs" stroke="#131722" stroke-width="0.15">1300.00</text>
<text x="669.68" y="41.97" font-size="12.4" fill="#131722" textLength="39.06" lengthAdjust="spacingAndGlyphs" stroke="#131722" stroke-width="0.15">1250.00</text>
<text x="669.68" y="72.12" font-size="12.4" fill="#131722" textLength="39.06" lengthAdjust="spacingAndGlyphs" stroke="#131722" stroke-width="0.15">1200.00</text>
<text x="669.68" y="102.27" font-size="12.4" fill="#131722" textLength="39.05" lengthAdjust="spacingAndGlyphs" stroke="#131722" stroke-width="0.15">1150.00</text>
<text x="669.68" y="132.42" font-size="12.4" fill="#131722" textLength="39.05" lengthAdjust="spacingAndGlyphs" stroke="#131722" stroke-width="0.15">1100.00</text>
<text x="669.68" y="162.57" font-size="12.4" fill="#131722" textLength="39.06" lengthAdjust="spacingAndGlyphs" stroke="#131722" stroke-width="0.15">1050.00</text>
<text x="669.68" y="192.72" font-size="12.4" fill="#131722" textLength="39.06" lengthAdjust="spacingAndGlyphs" stroke="#131722" stroke-width="0.15">1000.00</text>
<text x="669.58" y="222.87" font-size="12.4" fill="#131722" textLength="33.15" lengthAdjust="spacingAndGlyphs" stroke="#131722" stroke-width="0.15">950.00</text>
<text x="669.58" y="253.02" font-size="12.4" fill="#131722" textLength="33.15" lengthAdjust="spacingAndGlyphs" stroke="#131722" stroke-width="0.15">900.00</text>
<text x="669.58" y="283.17" font-size="12.4" fill="#131722" textLength="33.15" lengthAdjust="spacingAndGlyphs" stroke="#131722" stroke-width="0.15">850.00</text>
<text x="669.58" y="313.32" font-size="12.4" fill="#131722" textLength="33.15" lengthAdjust="spacingAndGlyphs" stroke="#131722" stroke-width="0.15">800.00</text>
<text x="669.58" y="343.47" font-size="12.4" fill="#131722" textLength="33.15" lengthAdjust="spacingAndGlyphs" stroke="#131722" stroke-width="0.15">750.00</text>
<text x="669.58" y="373.62" font-size="12.4" fill="#131722" textLength="33.15" lengthAdjust="spacingAndGlyphs" stroke="#131722" stroke-width="0.15">700.00</text>
<text x="669.58" y="403.77" font-size="12.4" fill="#131722" textLength="33.15" lengthAdjust="spacingAndGlyphs" stroke="#131722" stroke-width="0.15">650.00</text>
<text x="669.58" y="433.92" font-size="12.4" fill="#131722" textLength="33.15" lengthAdjust="spacingAndGlyphs" stroke="#131722" stroke-width="0.15">600.00</text>
<text x="669.58" y="464.07" font-size="12.4" fill="#131722" textLength="33.15" lengthAdjust="spacingAndGlyphs" stroke="#131722" stroke-width="0.15">550.00</text>
<text x="669.58" y="494.22" font-size="12.4" fill="#131722" textLength="33.15" lengthAdjust="spacingAndGlyphs" stroke="#131722" stroke-width="0.15">500.00</text>
<text x="669.58" y="524.37" font-size="12.4" fill="#131722" textLength="33.15" lengthAdjust="spacingAndGlyphs" stroke="#131722" stroke-width="0.15">450.00</text>
<text x="669.68" y="54.40" font-size="12.4" fill="#ffffff" textLength="39.06" lengthAdjust="spacingAndGlyphs" stroke="#ffffff" stroke-width="0.15">1229.75</text>
<text x="64.20" y="554.90" font-size="12" fill="#131722" textLength="16.83" lengthAdjust="spacingAndGlyphs">Jul</text>
<text x="158.10" y="554.90" font-size="12" fill="#131722" textLength="19.70" lengthAdjust="spacingAndGlyphs">Oct</text>
<text x="251.40" y="554.90" font-size="12" fill="#131722" font-weight="bold" textLength="26.08" lengthAdjust="spacingAndGlyphs">2021</text>
<text x="350.20" y="554.90" font-size="12" fill="#131722" textLength="21.30" lengthAdjust="spacingAndGlyphs">May</text>
<text x="446.20" y="554.90" font-size="12" fill="#131722" textLength="19.72" lengthAdjust="spacingAndGlyphs">Aug</text>
<text x="603.20" y="554.90" font-size="12" fill="#131722" font-weight="bold" textLength="26.97" lengthAdjust="spacingAndGlyphs">2022</text>
<text x="583.80" y="16.80" font-size="13" fill="#ff9800" font-weight="bold" textLength="7.20" lengthAdjust="spacingAndGlyphs">D</text>
<text x="25.35" y="512.90" font-size="20.5" fill="#1e1e1e" textLength="45.78" lengthAdjust="spacingAndGlyphs" stroke="#1e1e1e" stroke-width="0.9">CME</text>
<text x="76.04" y="512.90" font-size="20.5" fill="#1e1e1e" textLength="63.46" lengthAdjust="spacingAndGlyphs" stroke="#1e1e1e" stroke-width="0.9">Group</text>
<text x="5.85" y="530.30" font-size="13" fill="#5d606b" textLength="48.02" lengthAdjust="spacingAndGlyphs" stroke="#5d606b" stroke-width="0.3">powered</text>
<text x="58.15" y="530.30" font-size="13" fill="#5d606b" textLength="12.25" lengthAdjust="spacingAndGlyphs" stroke="#5d606b" stroke-width="0.3">by</text>
<text x="77.15" y="530.30" font-size="13" fill="#5b8df6" textLength="68.41" lengthAdjust="spacingAndGlyphs" stroke="#5b8df6" stroke-width="0.3">TradingView</text>
<text x="472.6" y="18.9" font-size="24" fill="#b2b5be">·</text>
<text x="502.7" y="18.9" font-size="24" fill="#b2b5be">·</text>
</svg>
</body></html>
